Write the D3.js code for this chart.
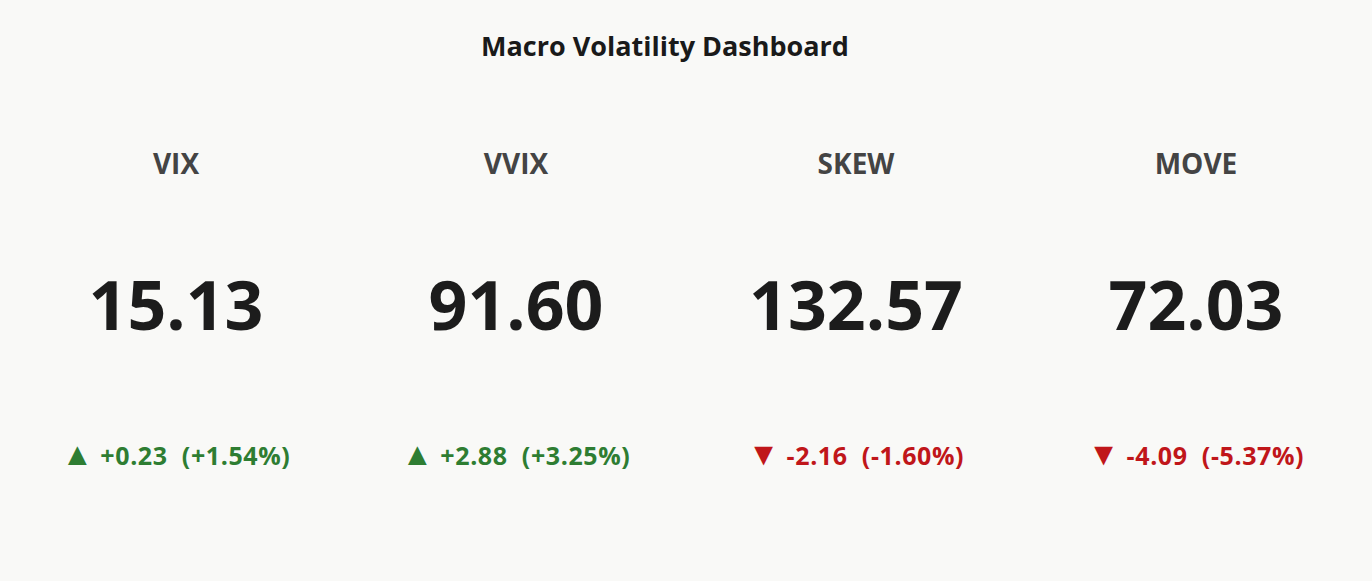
<!DOCTYPE html>
<html>
<head>
<meta charset="utf-8">
<script src="https://cdn.jsdelivr.net/npm/d3@7"></script>
<style>
  body { margin: 0; background: #f9f9f7; }
  svg { display: block; font-family: "Open Sans", "Noto Sans", sans-serif; }
</style>
</head>
<body>
<div id="chart"></div>
<script>
// card data
const names = ["VIX", "VVIX", "SKEW", "MOVE"];
const values = [15.13, 91.60, 132.57, 72.03];
const changes = [0.23, 2.88, -2.16, -4.09];
const pctChanges = [1.54, 3.25, -1.60, -5.37];

const width = 1372, height = 581;
const svg = d3.select("#chart").append("svg")
    .attr("width", width).attr("height", height);

svg.append("rect").attr("width", width).attr("height", height).attr("fill", "#f9f9f7");

svg.append("text")
    .attr("x", 665).attr("y", 56)
    .attr("text-anchor", "middle")
    .attr("font-size", 27).attr("font-weight", 700).attr("fill", "#1a1a1a")
    .text("Macro Volatility Dashboard");

const x = d3.scaleBand().domain(names).range([6, 1366]);
const data = names.map((n, i) => ({ name: n, value: values[i], chg: changes[i], pct: pctChanges[i] }));
const sign = v => (v >= 0 ? "+" : "") + v.toFixed(2);

const card = svg.selectAll("g.card").data(data).enter().append("g")
    .attr("class", "card")
    .attr("transform", d => "translate(" + (x(d.name) + x.bandwidth() / 2) + ",0)");

card.append("text")
    .attr("y", 174).attr("text-anchor", "middle")
    .attr("font-size", 28).attr("font-weight", 700).attr("fill", "#444")
    .text(d => d.name);

card.append("text")
    .attr("y", 330).attr("text-anchor", "middle")
    .attr("font-size", 68).attr("font-weight", 700).attr("fill", "#1c1c1c")
    .text(d => d.value.toFixed(2));

const chg = card.append("text")
    .attr("y", 465).attr("text-anchor", "middle")
    .attr("font-weight", 700)
    .attr("fill", d => d.chg >= 0 ? "#2e7d32" : "#c0161a")
    .attr("xml:space", "preserve");
chg.append("tspan").attr("font-size", 32)
    .text(d => d.chg >= 0 ? "\u25B2" : "\u25BC");
chg.append("tspan").attr("font-size", 25).attr("letter-spacing", 0.6)
    .text(d => " " + sign(d.chg) + "  (" + sign(d.pct) + "%)");
</script>
</body>
</html>
